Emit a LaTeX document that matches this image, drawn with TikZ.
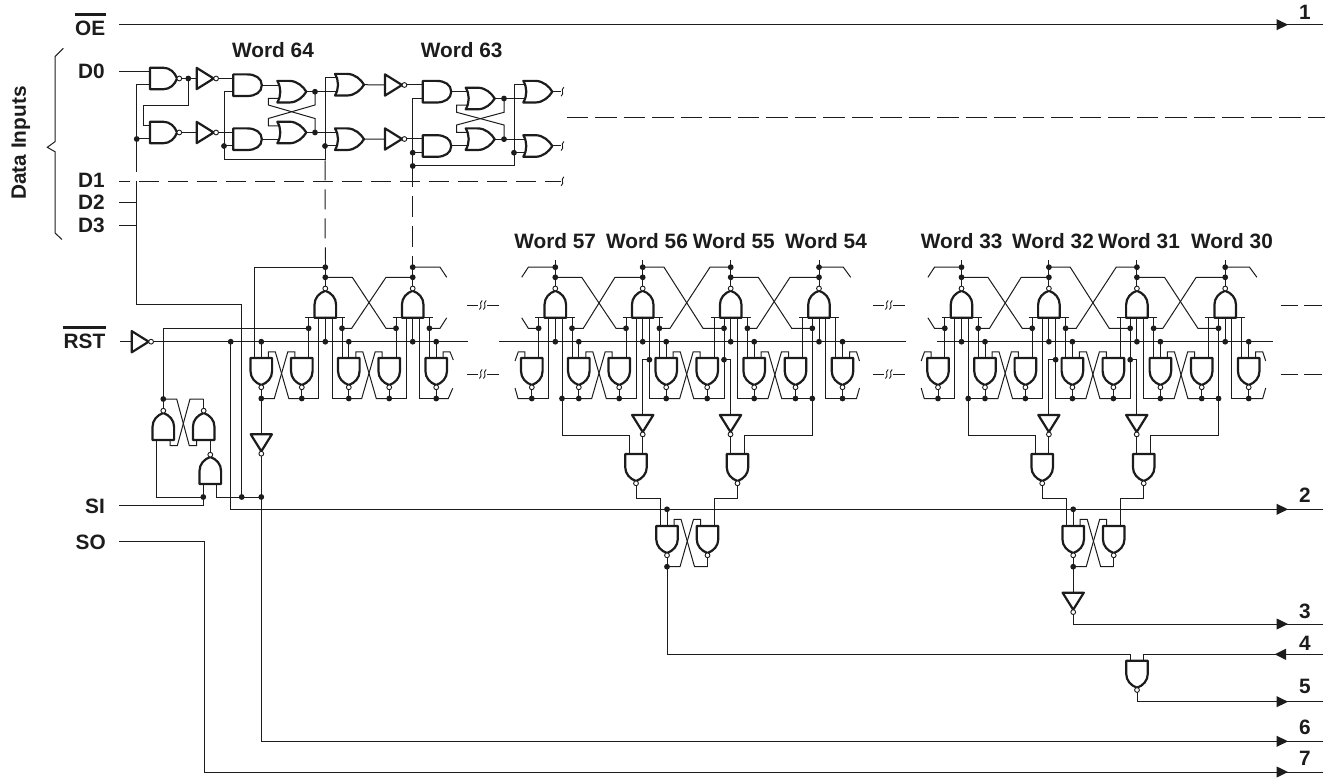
\documentclass[tikz,border=0pt]{standalone}
\usepackage{fontspec}
\setmainfont{Liberation Sans}
\definecolor{ink}{HTML}{1C1C1C}
\tikzset{
  wire/.style={draw=ink,line width=1pt,line join=miter},
  body/.style={draw=ink,line width=2.2pt,line join=round},
  bub/.style={draw=ink,line width=.9pt,fill=white},
  lbl/.style={font=\bfseries\fontsize{20.8}{20.8}\selectfont,text=ink,inner sep=0pt},
  nandg/.pic={\draw[body] (0,-10.8)--(13,-10.8) .. controls (20,-10.8) and (25,-6) .. (27,0) .. controls (25,6) and (20,10.8) .. (13,10.8)--(0,10.8)--cycle;
    \draw[bub] (29.3,0) circle[radius=2.4pt]; \coordinate (-in) at (0,0); \coordinate (-out) at (31.7,0);},
  andg/.pic={\draw[body] (0,-10.8)--(14,-10.8) .. controls (22,-10.8) and (28.5,-7) .. (28.5,0) .. controls (28.5,7) and (22,10.8) .. (14,10.8)--(0,10.8)--cycle;
    \coordinate (-in) at (0,0); \coordinate (-out) at (28.5,0);},
  org/.pic={\draw[body] (0,-10.8)--(12,-10.8) .. controls (20,-10.8) and (26,-5) .. (29,0) .. controls (26,5) and (20,10.8) .. (12,10.8)--(0,10.8) .. controls (4,4) and (4,-4) .. (0,-10.8)--cycle;
    \coordinate (-in) at (0,0); \coordinate (-out) at (29,0);},
  invg/.pic={\draw[body] (0,-10.6)--(17,0)--(0,10.6)--cycle;
    \draw[bub] (19.4,0) circle[radius=2.4pt]; \coordinate (-in) at (0,0); \coordinate (-out) at (21.8,0);},
}
\def\yA{267.2}\def\yB{277.3}\def\yS{317.8}\def\yC{328.3}\def\yR{341.7}\def\yF{351.8}\def\yG{358}
\def\yD{398.5}
% cross-coupled feedback between two side-by-side gates
\newcommand\crosspair[5]{% xa xb ytop ybend ybot
  \draw[wire] (#1+7,#3)--(#1+7,#4)--(#1+14,#4)--(#1+27.5,#5)--(#2,#5);
  \draw[wire] (#2-7,#3)--(#2-7,#4)--(#2-14,#4)--(#2-27.5,#5)--(#1,#5);}
\newcommand\jn[2]{\fill[ink] (#1,#2) circle[radius=2.9pt];}
% one word cell: upper NAND and two lower NANDs
\newcommand\wordcell[2]{%
 \begin{scope}[shift={(#2,0)},name prefix=#1-]
  \pic[rotate=90] (U) at (0,\yS) {nandg};
  \pic[rotate=-90] (L) at (-23.5,\yG) {nandg};
  \pic[rotate=-90] (R) at (23.5,\yG) {nandg};
  \draw[wire] (-20,\yS)--(20,\yS);
  \draw[wire] (0,\yR)--(0,\yS);
  \draw[wire] (U-out)--(0,260);
  \draw[wire] (-16.7,\yS)--(-16.7,\yG);
  \draw[wire] (16.7,\yS)--(16.7,\yG);
  \draw[wire] (23.5,\yR)--(23.5,\yG);
  \draw[wire] (L-out)--(-23.5,\yD)--(-6.7,\yD)--(-6.7,\yS);
  \draw[wire] (R-out)--(23.5,\yD)--(6.7,\yD)--(6.7,\yS);
  \jn{0}{\yA}\jn{0}{\yB}\jn{0}{\yR}\jn{23.5}{\yR}\jn{-23.5}{\yD}\jn{23.5}{\yD}
 \end{scope}}
\newcommand\squig[2]{\draw[line width=.9pt,draw=ink] (#1-1.4,#2+4.5) .. controls (#1+2.6,#2+1.4) and (#1-2.6,#2-1.4) .. (#1+1.4,#2-4.5);}
\newcommand\brk[2]{\draw[wire] (#1,#2)--(#1+11,#2);\draw[wire] (#1+20,#2)--(#1+31.5,#2);\squig{#1+13.5}{#2}\squig{#1+17.5}{#2}}
% group of four words with the decoding logic below
\newcommand\wordgroup[2]{%
 \begin{scope}[shift={(#2,0)}]
  \wordcell{#1a}{555.3}\wordcell{#1b}{642.7}\wordcell{#1c}{730.7}\wordcell{#1d}{819}
  \crosspair{578.8}{619.2}{\yG}{\yF}{\yD}
  \crosspair{666.2}{707.2}{\yG}{\yF}{\yD}
  \crosspair{754.2}{795.5}{\yG}{\yF}{\yD}
  \draw[wire] (524.8,\yG)--(524.8,\yF)--(518.3,\yF)--(515,361);
  \draw[wire] (531.8,\yD)--(518,\yD)--(515,388);
  \draw[wire] (849.5,\yG)--(849.5,\yF)--(856.5,\yF)--(859.5,361);
  \draw[wire] (842.5,\yD)--(856.5,\yD)--(859.5,388);
  % upper crossings
  \draw[wire] (555.3,\yA)--(528.3,\yA)--(521.7,\yB);
  \draw[wire] (538.6,\yC)--(528.3,\yC)--(521.7,\yS);
  \draw[wire] (555.3,\yB)--(581.7,\yB)--(616,\yC)--(626,\yC);
  \draw[wire] (572,\yC)--(583.3,\yC)--(615,\yB)--(642.7,\yB);
  \draw[wire] (642.7,\yA)--(664,\yA)--(703,\yC)--(724,\yC);
  \draw[wire] (659.4,\yC)--(670,\yC)--(710,\yA)--(730.7,\yA);
  \draw[wire] (730.7,\yB)--(758.3,\yB)--(791.7,\yC)--(812.3,\yC);
  \draw[wire] (747.4,\yC)--(756.7,\yC)--(790,\yB)--(819,\yB);
  \draw[wire] (819,\yA)--(843.3,\yA)--(850.7,\yB);
  \foreach \p in {(538.6,\yC),(572,\yC),(626,\yC),(659.4,\yC),(724,\yC),(747.4,\yC),(812.3,\yC),(649.4,359.7),(724,359.7),(562,\yD),(812.3,\yD),(667,509.3),(667,566.7)}
    \fill[ink] \p circle[radius=2.9pt];
  % decoding
  \pic[rotate=-90] (#1I1) at (642.7,415) {invg};
  \pic[rotate=-90] (#1I2) at (730.5,415) {invg};
  \pic[rotate=-90] (#1N1) at (636,454) {nandg};
  \pic[rotate=-90] (#1N2) at (737.5,454) {nandg};
  \pic[rotate=-90] (#1L) at (667,526) {nandg};
  \pic[rotate=-90] (#1R) at (707.5,526) {nandg};
  \draw[wire] (562,\yD)--(562,435.7)--(629.3,435.7)--(629.3,454);
  \draw[wire] (649.4,359.7)--(642.7,359.7)--(#1I1-in);
  \draw[wire] (724,359.7)--(730.5,359.7)--(#1I2-in);
  \draw[wire] (#1I1-out)--(642.7,454);
  \draw[wire] (#1I2-out)--(730.5,454);
  \draw[wire] (812.3,\yD)--(812.3,435.7)--(744,435.7)--(744,454);
  \draw[wire] (#1N1-out)--(636,498.7)--(660.3,498.7)--(660.3,526);
  \draw[wire] (#1N2-out)--(737.5,498.7)--(714,498.7)--(714,526);
  \draw[wire] (667,509.3)--(667,526);
  \draw[wire] (#1L-out)--(667,566.7);
  \draw[wire] (#1R-out)--(707.5,566.7);
  \crosspair{667}{707.5}{526}{519.3}{566.7}
 \end{scope}}
\begin{document}
\begin{tikzpicture}[x=1pt,y=-1pt]
\useasboundingbox (0,0) rectangle (1325,778);
% ---------- labels
\node[lbl,anchor=east] (oe) at (105.5,28) {OE};
\draw[ink,line width=2.5pt] (75,14.5)--(106,14.5);
\node[lbl,anchor=east] (d0) at (105,71) {D0};
\node[lbl,anchor=east] (d1) at (105,180.5) {D1};
\node[lbl,anchor=east] (d2) at (105,202.5) {D2};
\node[lbl,anchor=east] (d3) at (105,225) {D3};
\node[lbl,anchor=east] (rst) at (105.5,341) {RST};
\draw[ink,line width=2.5pt] (63.3,327.3)--(106,327.3);
\node[lbl,anchor=east] (si) at (105,506) {SI};
\node[lbl,anchor=east] (so) at (106,542) {SO};
\node[lbl,rotate=90] (data) at (21,143) {Data Inputs};
\draw[ink,line width=1pt] (63.3,48.3)--(55,56.7)--(55,141.7)--(47.3,147.3)--(55,151.7)--(55,233)--(62,239.5);
\foreach \n/\x/\y/\t in {w64/273/50/64,w63/461.7/50/63,w57/555.2/241/57,w56/647/241/56,w55/733.8/241/55,w54/826/241/54,w33/961.7/241/33,w32/1053/241/32,w31/1139/241/31,w30/1232/241/30}
  \node[lbl] (\n) at (\x,\y) {Word \t};
\foreach \n/\y/\t in {o1/12/1,o2/495.7/2,o3/611.7/3,o4/643/4,o5/686.7/5,o6/727.3/6,o7/758/7}
  \node[lbl] (\n) at (1305,\y) {\t};
% ---------- output lines
\draw[wire] (119,24.7)--(1323,24.7);
\foreach \y in {24.7,509.3,624,701.7,741.3,772}
  \fill[ink] (1276.5,\y-5.6)--(1288,\y)--(1276.5,\y+5.6)--cycle;
\fill[ink] (1286,654.3-5.6)--(1274.8,654.3)--(1286,654.3+5.6)--cycle;
% ---------- data latch section
\draw[wire] (119,71.7)--(150,71.7);
\draw[wire] (119,203)--(136.7,203);
\draw[wire] (119,225.7)--(136.7,225.7);
\draw[wire] (136.7,171.7)--(136.7,85)--(150,85);
\draw[wire] (136.7,139)--(150,139);
\jn{136.7}{139}
\pic (NA) at (150,78.5) {nandg};
\pic (NB) at (150,132.5) {nandg};
\pic (IA) at (196.7,78.5) {invg};
\pic (IB) at (196.7,132.5) {invg};
\pic (A1) at (233.3,85.2) {andg};
\pic (A2) at (233.3,139.2) {andg};
\pic (O1) at (277.3,91.7) {org};
\pic (O2) at (277.3,132.5) {org};
\pic (O3) at (335,84.7) {org};
\pic (O4) at (335,139.2) {org};
\pic (IC) at (385,85) {invg};
\pic (ID) at (385,139) {invg};
\pic (A3) at (422.7,91.7) {andg};
\pic (A4) at (422.7,146) {andg};
\pic (O5) at (465.7,98.5) {org};
\pic (O6) at (465.7,139.2) {org};
\pic (O7) at (523.3,91.7) {org};
\pic (O8) at (523.3,146) {org};
\draw[wire] (NA-out)--(IA-in); \draw[wire] (NB-out)--(IB-in);
\jn{188.3}{78.5}
\draw[wire] (188.3,78.5)--(188.3,105.3)--(143.3,105.3)--(143.3,126)--(150,126);
\draw[wire] (IA-out)--(233.3,78.5); \draw[wire] (IB-out)--(233.3,132.5);
\draw[wire] (A1-out)--(280,85.2);
\draw[wire] (A2-out)--(280,139.2);
\draw[wire] (O1-out)--(337.7,91.7);
\draw[wire] (O2-out)--(337.7,132.5);
\draw[wire] (325,78)--(337.7,78);
\draw[wire] (325,78)--(325,159.3)--(224,159.3)--(224,91.9)--(233.3,91.9);
\draw[wire] (224,146)--(233.3,146);
\draw[wire] (325,146)--(337.7,146);
\jn{224}{146}\jn{325}{146}\jn{315}{91.7}\jn{315}{132.5}
\draw[wire] (280,98.3)--(268.3,98.3)--(268.3,105)--(315,118.5)--(315,132.5);
\draw[wire] (280,125.8)--(268.3,125.8)--(268.3,118.5)--(315,105)--(315,91.7);
\draw[wire] (O3-out)--(IC-in); \draw[wire] (O4-out)--(ID-in);
\draw[wire] (IC-out)--(422.7,85); \draw[wire] (ID-out)--(422.7,139);
\draw[wire] (412.7,98.4)--(422.7,98.4);
\draw[wire] (412.7,98.4)--(412.7,166)--(514,166)--(514,85)--(526,85);
\draw[wire] (412.7,152.7)--(422.7,152.7);
\draw[wire] (514,152.7)--(526,152.7);
\jn{412.7}{152.7}\jn{412.7}{166}\jn{514}{152.7}
\draw[wire] (A3-out)--(468.4,91.7);
\draw[wire] (A4-out)--(468.4,146);
\draw[wire] (O5-out)--(526,98.5);
\draw[wire] (O6-out)--(526,139.2);
\jn{504}{98.5}\jn{504}{139.2}
\draw[wire] (504,98.5)--(504,112.3)--(456.7,125)--(456.7,132.5)--(468.4,132.5);
\draw[wire] (504,139.2)--(504,125)--(456.7,112.3)--(456.7,105.2)--(468.4,105.2);
\draw[wire] (O7-out)--(561,91.7); \squig{562.5}{91.7}
\draw[wire] (O8-out)--(561,146); \squig{562.5}{146}
\draw[wire,dash pattern=on 20pt off 9pt,dash phase=9pt] (119,181.3)--(561,181.3); \squig{562.5}{181.3}
\draw[wire,dash pattern=on 21.5pt off 7pt] (566.7,117.7)--(1325,117.7);
\draw[wire,dash pattern=on 20pt off 9pt,dash phase=-1pt] (325,159.3)--(325.3,260);
\draw[wire,dash pattern=on 21pt off 9pt] (412.7,166)--(412.7,260);
% ---------- reset and shift lines
\pic (IR) at (131.7,\yR) {invg};
\draw[wire] (120,\yR)--(IR-in);
\draw[wire] (IR-out)--(468,\yR);
\draw[wire] (499,\yR)--(906,\yR);
\draw[wire] (937,\yR)--(1273,\yR);
\draw[wire] (230.7,\yR)--(230.7,509.3)--(1323,509.3);
\jn{230.7}{\yR}
\draw[wire] (136.7,181)--(136.7,304.3)--(241.7,304.3)--(241.7,497);
\foreach \y in {305,374} {\brk{467.3}{\y}\brk{873.3}{\y}}
\foreach \y in {305,374} {\draw[wire,dash pattern=on 17.5pt off 6pt] (1280.7,\y)--(1325,\y);}
% ---------- words 64 and 63
\wordcell{W64}{325.3}
\wordcell{W63}{412.7}
\pic[rotate=-90] (G1) at (261.3,\yG) {nandg};
\crosspair{261.3}{301.8}{\yG}{\yF}{\yD}
\crosspair{348.8}{389.2}{\yG}{\yF}{\yD}
\draw[wire] (325.3,\yA)--(254.3,\yA)--(254.3,\yG);
\draw[wire] (261.3,\yR)--(261.3,\yG);
\draw[wire] (G1-out)--(261.3,\yD);
\draw[wire] (163.3,399)--(163.3,\yC)--(308.6,\yC);
\draw[wire] (342,\yC)--(351.7,\yC)--(386,\yB)--(412.7,\yB);
\draw[wire] (325.3,\yB)--(352.3,\yB)--(386,\yC)--(396,\yC);
\draw[wire] (412.7,\yA)--(440,\yA)--(446.7,\yB);
\draw[wire] (429.4,\yC)--(440,\yC)--(446.7,\yS);
\draw[wire] (443.2,\yG)--(443.2,\yF)--(450,\yF)--(453.3,360);
\draw[wire] (436.2,\yD)--(448.3,\yD)--(452.7,388.3);
\foreach \p in {(261.3,\yR),(261.3,\yD),(308.6,\yC),(342,\yC),(396,\yC),(429.4,\yC)}
  \fill[ink] \p circle[radius=2.9pt];
% ---------- left hand latch
\pic[rotate=90] (P1) at (163.3,440) {nandg};
\pic[rotate=90] (P2) at (203.7,440) {nandg};
\pic[rotate=90] (P3) at (210.3,484) {nandg};
\draw[wire] (P1-out)--(163.3,399);
\draw[wire] (P2-out)--(203.7,399);
\draw[wire] (163.3,399)--(176.7,399)--(189.3,445.7)--(196.7,445.7)--(196.7,440);
\draw[wire] (203.7,399)--(190,399)--(177.3,445.7)--(170,445.7)--(170,440);
\draw[wire] (P3-out)--(210.3,440);
\draw[wire] (156.7,440)--(156.7,497)--(203.3,497)--(203.3,484);
\draw[wire] (216.7,484)--(216.7,497)--(261.3,497);
\draw[wire] (119.3,505.7)--(203.3,505.7)--(203.3,497);
\jn{163.3}{399}\jn{203.3}{497}\jn{241.7}{497}\jn{261.3}{497}
\pic[rotate=-90] (T) at (261.3,434.3) {invg};
\draw[wire] (261.3,\yD)--(T-in);
\draw[wire] (T-out)--(261.3,741.3)--(1323,741.3);
\draw[wire] (119,541)--(204,541)--(204,772)--(1323,772);
% ---------- the two word groups
\wordgroup{A}{0}
\wordgroup{B}{406.2}
\draw[wire] (667,566.7)--(667,654.3)--(1130.7,654.3)--(1130.7,660.7);
\pic[rotate=-90] (J) at (1073.2,592.7) {invg};
\draw[wire] (1073.2,566.7)--(J-in);
\draw[wire] (J-out)--(1073.2,624)--(1323,624);
\pic[rotate=-90] (K) at (1137,660.7) {nandg};
\draw[wire] (1143.5,660.7)--(1143.5,654.3)--(1323,654.3);
\draw[wire] (K-out)--(1137,701.7)--(1323,701.7);
\end{tikzpicture}
\end{document}
